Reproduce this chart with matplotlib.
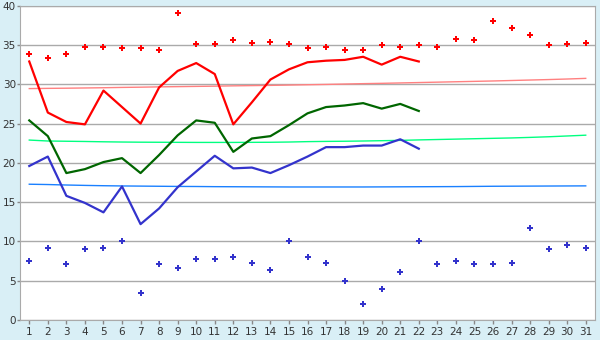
import numpy as np
import matplotlib
matplotlib.use("Agg")
import matplotlib.pyplot as plt

# Días del mes
dias = list(range(1, 32))
dias_obs = list(range(1, 23))

# Máximas, media y mínimas diarias (1-22)
t_max_linea = [32.9, 26.4, 25.2, 24.9, 29.2, 27.1, 25.0, 29.6, 31.7, 32.7,
               31.3, 24.9, 27.7, 30.6, 31.9, 32.8, 33.0, 33.1, 33.5, 32.5,
               33.5, 32.9]
t_med_linea = [25.4, 23.4, 18.7, 19.2, 20.1, 20.6, 18.7, 21.0, 23.5, 25.4,
               25.1, 21.4, 23.1, 23.4, 24.8, 26.3, 27.1, 27.3, 27.6, 26.9,
               27.5, 26.6]
t_min_linea = [19.6, 20.8, 15.8, 14.9, 13.7, 17.0, 12.2, 14.2, 16.9, 18.9,
               20.9, 19.3, 19.4, 18.7, 19.7, 20.8, 22.0, 22.0, 22.2, 22.2,
               23.0, 21.8]

# Récords (puntos) para los 31 días
record_max = [33.9, 33.3, 33.8, 34.7, 34.7, 34.6, 34.6, 34.3, 39.1, 35.1,
              35.1, 35.6, 35.3, 35.4, 35.1, 34.6, 34.7, 34.4, 34.4, 35.0,
              34.7, 35.0, 34.8, 35.8, 35.6, 38.1, 37.2, 36.3, 35.0, 35.1,
              35.3]
record_min = [7.5, 9.2, 7.1, 9.0, 9.2, 10.0, 3.4, 7.1, 6.6, 7.8,
              7.8, 8.0, 7.2, 6.4, 10.0, 8.0, 7.3, 5.0, 2.0, 4.0,
              6.1, 10.0, 7.1, 7.5, 7.1, 7.1, 7.3, 11.7, 9.0, 9.5,
              9.1]

# Valores normales
normal_max = [29.45, 29.48, 29.5, 29.53, 29.56, 29.6, 29.63, 29.67, 29.7, 29.73,
              29.76, 29.8, 29.83, 29.86, 29.9, 29.94, 29.98, 30.03, 30.08, 30.12,
              30.17, 30.22, 30.27, 30.32, 30.37, 30.42, 30.48, 30.54, 30.6, 30.67,
              30.75]
normal_med = [22.9, 22.78, 22.75, 22.72, 22.68, 22.65, 22.63, 22.62, 22.61, 22.6,
              22.6, 22.6, 22.61, 22.62, 22.65, 22.7, 22.73, 22.75, 22.78, 22.82,
              22.86, 22.92, 22.97, 23.02, 23.07, 23.12, 23.17, 23.24, 23.32, 23.42,
              23.52]
normal_min = [17.28, 17.24, 17.18, 17.13, 17.09, 17.06, 17.04, 17.02, 17.0, 16.99,
              16.97, 16.96, 16.95, 16.94, 16.93, 16.93, 16.93, 16.93, 16.93, 16.94,
              16.95, 16.96, 16.97, 16.98, 17.0, 17.02, 17.03, 17.04, 17.05, 17.06,
              17.07]

fig = plt.figure(figsize=(6, 3.4), dpi=100, facecolor='#d9eff6')
ax = fig.add_axes([20/600, 20/340, 575/600, 314.3/340])
ax.set_facecolor('white')

ax.yaxis.grid(True, color='#aaaaaa', linewidth=1)
ax.set_axisbelow(True)

# Normales
ax.plot(dias, normal_max, color='#ff8080', linewidth=1)
ax.plot(dias, normal_med, color='#00ff80', linewidth=1)
ax.plot(dias, normal_min, color='#1a80ff', linewidth=1)

# Series diarias
ax.plot(dias_obs, t_max_linea, color='#ff0000', linewidth=1.6)
ax.plot(dias_obs, t_med_linea, color='#006600', linewidth=1.6)
ax.plot(dias_obs, t_min_linea, color='#3333cc', linewidth=1.6)

# Récords
ax.plot(dias, record_max, linestyle='none', marker='P', markersize=4.5,
        color='#ff0000', markeredgewidth=0)
ax.plot(dias, record_min, linestyle='none', marker='P', markersize=4.5,
        color='#3333cc', markeredgewidth=0)

ax.set_xlim(0.5, 31.5)
ax.set_ylim(0, 40)
ax.set_xticks(dias)
ax.set_yticks(range(0, 41, 5))

for s in ax.spines.values():
    s.set_color('#aaaaaa')
ax.tick_params(axis='both', colors='#333333', labelsize=7.5, width=1)
ax.tick_params(axis='x', length=3, pad=2)
ax.tick_params(axis='y', length=2, pad=1)
ax.tick_params(axis='both', color='#888888')
for lbl in ax.get_yticklabels():
    lbl.set_verticalalignment('center_baseline')

fig.savefig('out.png', dpi=100, facecolor=fig.get_facecolor())
